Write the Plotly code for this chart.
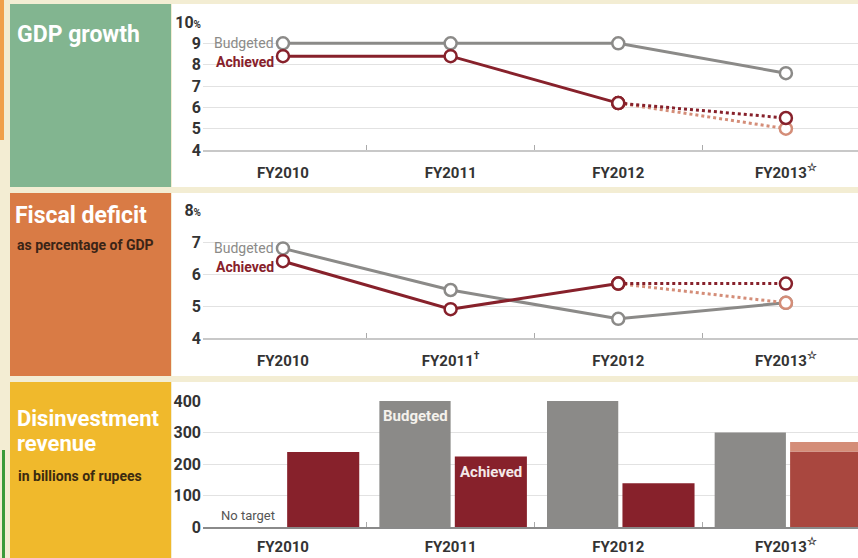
import plotly.graph_objects as go

# data
years = ["FY2010", "FY2011", "FY2012", "FY2013"]
x_pos = [0, 1, 2, 3]
labels_top = ["FY2010", "FY2011", "FY2012", "FY2013<sup>☆</sup>"]
labels_mid = ["FY2010", "FY2011<sup>†</sup>", "FY2012", "FY2013<sup>☆</sup>"]

gdp_budgeted = [9.0, 9.0, 9.0, 7.6]
gdp_achieved = [8.4, 8.4, 6.2]
gdp_est_high = [6.2, 5.5]   # FY2012 -> FY2013
gdp_est_low = [6.2, 5.0]

fiscal_budgeted = [6.8, 5.5, 4.6, 5.1]
fiscal_achieved = [6.4, 4.9, 5.7]
fiscal_est_high = [5.7, 5.7]
fiscal_est_low = [5.7, 5.1]

disinv_budgeted = [None, 400, 400, 300]
disinv_achieved = [238, 224, 139, 240]
disinv_fy2013_upper = 270

GRAY = "#8b8a88"
RED = "#87212b"
RED2 = "#a9473f"
SALMON = "#d48d78"
CREAM = "#f3edd3"
FONT = "Roboto, Liberation Sans, sans-serif"

W, H = 858, 558
def py(p):  # pixel row -> paper y
    return 1 - p / H

fig = go.Figure()

def line_panel(xa, ya, budget, achieved, est_hi, est_lo):
    mk = dict(symbol="circle", size=12, color="white")
    fig.add_trace(go.Scatter(x=x_pos, y=budget, xaxis=xa, yaxis=ya, mode="lines+markers",
                             line=dict(color=GRAY, width=3), marker={**mk, "line": dict(color=GRAY, width=2.5)},
                             cliponaxis=False))
    fig.add_trace(go.Scatter(x=x_pos[2:], y=est_lo, xaxis=xa, yaxis=ya, mode="lines+markers",
                             line=dict(color=SALMON, width=3, dash="dot"),
                             marker={**mk, "line": dict(color=SALMON, width=2.5)}, cliponaxis=False))
    fig.add_trace(go.Scatter(x=x_pos[2:], y=est_hi, xaxis=xa, yaxis=ya, mode="lines+markers",
                             line=dict(color=RED, width=3, dash="dot"),
                             marker={**mk, "line": dict(color=RED, width=2.5)}, cliponaxis=False))
    fig.add_trace(go.Scatter(x=x_pos[:3], y=achieved, xaxis=xa, yaxis=ya, mode="lines+markers",
                             line=dict(color=RED, width=3), marker={**mk, "line": dict(color=RED, width=2.5)},
                             cliponaxis=False))
    fig.add_annotation(x=0, y=budget[0], xref=xa, yref=ya, text="Budgeted", showarrow=False,
                       xanchor="right", xshift=-7, font=dict(family=FONT, size=14, color=GRAY))
    fig.add_annotation(x=0, y=achieved[0], xref=xa, yref=ya, text="Achieved", showarrow=False,
                       xanchor="right", xshift=-7, yshift=-6,
                       font=dict(family=FONT, size=14, color=RED, weight="bold"))

line_panel("x", "y", gdp_budgeted, gdp_achieved, gdp_est_high, gdp_est_low)
line_panel("x2", "y2", fiscal_budgeted, fiscal_achieved, fiscal_est_high, fiscal_est_low)

# bars
fig.add_trace(go.Bar(x=x_pos, y=disinv_budgeted, xaxis="x3", yaxis="y3", offset=-0.425, width=0.425,
                     marker=dict(color=GRAY, line=dict(width=0))))
fig.add_trace(go.Bar(x=x_pos, y=disinv_achieved, xaxis="x3", yaxis="y3", offset=0.025, width=0.43,
                     marker=dict(color=[RED, RED, RED, RED2], line=dict(width=0))))
fig.add_trace(go.Bar(x=[3], y=[disinv_fy2013_upper - disinv_achieved[3]], base=[disinv_achieved[3]],
                     xaxis="x3", yaxis="y3", offset=0.025, width=0.43,
                     marker=dict(color=SALMON, line=dict(width=0))))

fig.add_annotation(x=1 - 0.425, y=400, xref="x3", yref="y3", text="Budgeted", showarrow=False,
                   xanchor="left", yanchor="top", xshift=2, yshift=-4,
                   font=dict(family=FONT, size=15, color="#f4f1ec", weight="bold"))
fig.add_annotation(x=1.24, y=224, xref="x3", yref="y3", text="Achieved", showarrow=False,
                   xanchor="center", yanchor="top", yshift=-5,
                   font=dict(family=FONT, size=15, color="#f4e9e9", weight="bold"))
fig.add_annotation(x=-0.21, y=0, xref="x3", yref="y3", text="No target", showarrow=False,
                   xanchor="center", yanchor="bottom", yshift=2, font=dict(family=FONT, size=13, color="#555"))

xdom = [203 / W, 1]
xrange = [-0.477, 3.43]
def xaxis(ticktext, standoff=8):
    return dict(domain=xdom, range=xrange, tickvals=x_pos, ticktext=ticktext, ticks="",
                showgrid=False, zeroline=False, showline=True, linecolor="#c8c8c8", linewidth=1.5,
                tickfont=dict(family=FONT, size=15, color="#333", weight="bold"), ticklabelstandoff=standoff,
                minor=dict(tickvals=[0.5, 1.5, 2.5], ticks="inside", ticklen=5, tickcolor="#aaa", showgrid=False),
                automargin=False, fixedrange=True)

def yaxis(dom, rng, tv, tt, anchor):
    return dict(domain=dom, range=rng, tickvals=tv, ticktext=tt, anchor=anchor, showgrid=True,
                gridcolor="#e2e2e2", gridwidth=1, zeroline=False, showline=False, ticks="",
                tickfont=dict(family=FONT, size=16, color="#333", weight="bold"), ticklabelstandoff=1,
                automargin=False, fixedrange=True)

pct = "<span style='font-size:10px'>%</span>"
fig.update_layout(
    width=W, height=H, margin=dict(l=0, r=0, t=0, b=0, autoexpand=False),
    paper_bgcolor=CREAM, plot_bgcolor="white", showlegend=False, barmode="overlay",
    xaxis=xaxis(labels_top), xaxis2=xaxis(labels_mid), xaxis3=xaxis(labels_top, 5),
    yaxis=yaxis([py(150), py(22)], [4, 10], [4, 5, 6, 7, 8, 9, 10],
                ["4", "5", "6", "7", "8", "9", "10" + pct], "x"),
    yaxis2=yaxis([py(338), py(210)], [4, 8], [4, 5, 6, 7, 8], ["4", "5", "6", "7", "8" + pct], "x2"),
    yaxis3=yaxis([py(527), py(401)], [0, 400], [0, 100, 200, 300, 400],
                 ["0", "100", "200", "300", "400"], "x3"),
)
fig.update_layout(xaxis=dict(anchor="y"), xaxis2=dict(anchor="y2"), xaxis3=dict(anchor="y3"))
fig.update_layout(xaxis3=dict(linecolor="#8a8a8a"))

# background panels
panels = [(4, 187, "#82b590"), (193, 376, "#d97b45"), (382, 558, "#f0b92c")]
for top, bot, col in panels:
    fig.add_shape(type="rect", xref="paper", yref="paper", x0=10 / W, x1=171 / W, y0=py(bot), y1=py(top),
                  fillcolor=col, line=dict(width=0), layer="below")
    fig.add_shape(type="rect", xref="paper", yref="paper", x0=172 / W, x1=1, y0=py(bot), y1=py(top),
                  fillcolor="white", line=dict(width=0), layer="below")
fig.add_shape(type="rect", xref="paper", yref="paper", x0=0, x1=4 / W, y0=py(140), y1=1,
              fillcolor="#f0a04a", line=dict(width=0), layer="below")
fig.add_shape(type="rect", xref="paper", yref="paper", x0=2 / W, x1=5 / W, y0=0, y1=py(450),
              fillcolor="#3a9a3a", line=dict(width=0), layer="below")

# panel titles
def title(text, x, ytop, size, color="white"):
    fig.add_annotation(x=x / W, y=py(ytop), xref="paper", yref="paper", text=text, showarrow=False,
                       xanchor="left", yanchor="top", align="left",
                       font=dict(family=FONT, size=size, color=color, weight="bold"))

title("GDP growth", 15, 19, 23)
title("Fiscal deficit", 13, 200, 23)
title("as percentage of GDP", 15, 235, 14, "#3b2416")
title("Disinvestment", 15, 404, 22)
title("revenue", 15, 429, 22)
title("in billions of rupees", 16, 466, 14, "#3b2a10")

fig.write_html("out.html", config={"displayModeBar": False},
               post_script="document.body.style.margin='0';")
